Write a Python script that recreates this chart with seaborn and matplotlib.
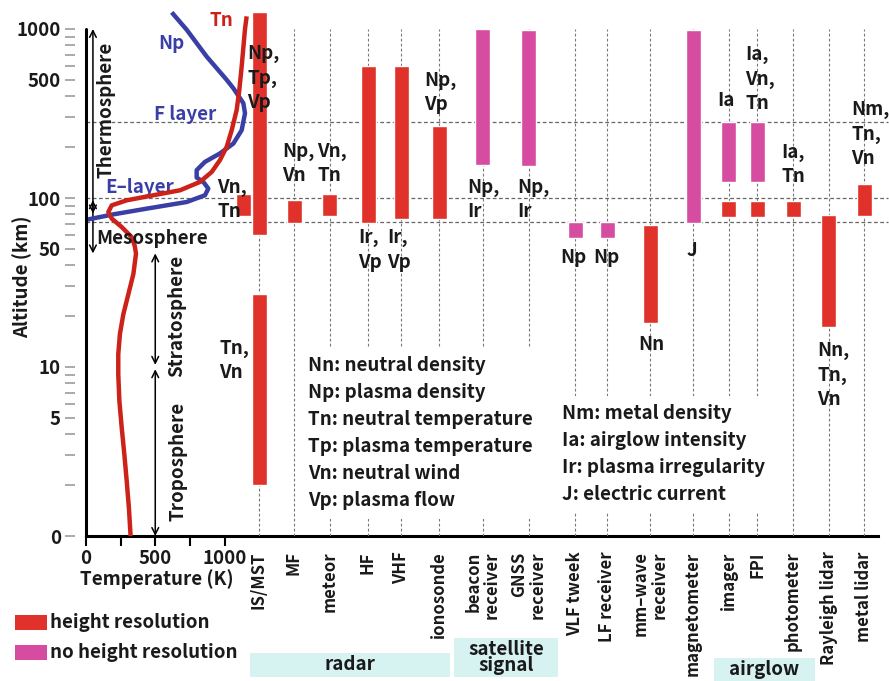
import numpy as np
import pandas as pd
import matplotlib
matplotlib.use("Agg")
import matplotlib.pyplot as plt
import matplotlib.ticker as mticker
from matplotlib.patches import Rectangle
import seaborn as sns

# ---------------- data ----------------
# neutral temperature profile (K) vs altitude (km)
tn_temp = [1160, 1148, 1124, 1107, 1088, 1052, 1016, 967, 908, 823, 679, 486, 294,
           186, 161, 186, 258, 330, 352, 361, 342, 306, 270, 245, 233, 233, 241,
           258, 277, 294, 310, 322]
tn_alt = [1188, 1000, 600, 436, 332, 252, 201, 167.5, 142.7, 124.5, 111.1, 103.8,
          96.9, 90.5, 82.6, 75.5, 67.3, 58.7, 52, 46.8, 35.5, 27.0, 20.6, 15.7,
          11.9, 9.06, 6.29, 4.36, 3.03, 2.11, 1.46, 1.0]
# plasma density profile (arbitrary units, drawn on temperature scale)
np_val = [619, 727, 871, 1016, 1064, 1136, 1148, 1124, 1064, 967, 859, 799, 799,
          847, 883, 859, 727, 438, 197, 5]
np_alt = [1254, 990, 687, 500, 446, 364, 317, 252, 210, 183.5, 163.6, 146.1, 132.2,
          124.5, 113.7, 103.8, 94.7, 86.5, 80.0, 74.4]

instruments = ["IS/MST", "MF", "meteor", "HF", "VHF", "ionosonde",
               "beacon\nreceiver", "GNSS\nreceiver", "VLF tweek", "LF receiver",
               "mm\u2013wave\nreceiver", "magnetometer", "imager", "FPI",
               "photometer", "Rayleigh lidar", "metal lidar"]

# altitude coverage of each instrument (km)
bar_inst = [0, 0, 0, 1, 2, 3, 4, 5, 6, 7, 8, 9, 10, 11, 12, 12, 13, 13, 14, 15, 16]
bar_bottom = [60, 2, 78, 71, 78, 71, 75, 75, 156, 154, 57.6, 57.6, 18.3, 71,
              124, 76.8, 124, 76.8, 76.8, 17.3, 77.9]
bar_top = [1268, 27, 105, 97, 105, 600, 605, 267, 1000, 990, 71.7, 71.7, 68.8,
           990, 281, 95.6, 281, 95.6, 95.6, 79, 120.6]
bar_kind = ["height resolution", "height resolution", "height resolution",
            "height resolution", "height resolution", "height resolution",
            "height resolution", "height resolution", "no height resolution",
            "no height resolution", "no height resolution", "no height resolution",
            "height resolution", "no height resolution", "no height resolution",
            "height resolution", "no height resolution", "height resolution",
            "height resolution", "height resolution", "height resolution"]

bar_labels = ["Np,\nTp,\nVp", "Tn,\nVn", "Vn,\nTn", "Np,\nVn", "Vn,\nTn", "Ir,\nVp",
              "Ir,\nVp", "Np,\nVp", "Np,\nIr", "Np,\nIr", "Np", "Np", "Nn", "J",
              "Ia", "Ia,\nVn,\nTn", "Ia,\nTn", "Nn,\nTn,\nVn", "Nm,\nTn,\nVn"]

abbrev_left = ["Nn: neutral density", "Np: plasma density", "Tn: neutral temperature",
               "Tp: plasma temperature", "Vn: neutral wind", "Vp: plasma flow"]
abbrev_right = ["Nm: metal density", "Ia: airglow intensity",
                "Ir: plasma irregularity", "J: electric current"]

ref_alts = [280, 100, 72]
temp_ticks = [0, 500, 1000]
alt_ticks = [1, 5, 10, 50, 100, 500, 1000]
alt_ticklabels = ["0", "5", "10", "50", "100", "500", "1000"]

# ---------------- layout ----------------
W, H = 889, 681
AX_L, AX_R, AX_T, AX_B = 86, 878, 29, 536
PX_PER_K = 0.1385
inst_pos = [173, 208, 243.5, 282, 315, 353, 396.5, 442.5, 489, 521, 564, 607,
            642.5, 671, 707, 742.5, 778]
bar_shift = [0, 0, -15.5] + [0] * 18
bar_width = 15
label_xy = [(247, 78), (219, 360.5), (217, 199.5), (282, 163.5), (317, 163.5),
            (358, 250), (387, 250), (424, 92.5), (467, 199.5), (517, 199.5),
            (560, 257.5), (593, 257.5), (638, 344.5), (687, 250.5), (717, 100.5),
            (745, 79), (781, 164.5), (817, 375), (851, 134)]

RED = "#e0312a"
MAG = "#d64ca1"
CURVE_RED = "#cc2219"
BLUE = "#3a3fa6"
CYAN = "#d6f2f1"
FS = 13.5
FS_CAT = 12
TXT = "#1a1a1a"

sns.set_theme(style="ticks")
plt.rcParams["font.family"] = ["Noto Sans CJK JP", "DejaVu Sans"]
plt.rcParams["font.weight"] = "bold"
plt.rcParams["text.color"] = TXT
plt.rcParams["xtick.color"] = TXT
plt.rcParams["ytick.color"] = TXT
plt.rcParams["axes.unicode_minus"] = False


def fx(x):
    return x / W


def fy(y):
    return 1 - y / H


fig = plt.figure(figsize=(W / 100, H / 100), dpi=100)
ax = fig.add_axes([fx(AX_L), fy(AX_B), (AX_R - AX_L) / W, (AX_B - AX_T) / H])
ax.set_yscale("log")
ax.set_ylim(1, 1000)
ax.set_xlim(0, (AX_R - AX_L) / PX_PER_K)

# curves
sns.lineplot(x=tn_temp, y=tn_alt, sort=False, estimator=None, ax=ax,
             color=CURVE_RED, lw=3.2, clip_on=False, zorder=5)
sns.lineplot(x=np_val, y=np_alt, sort=False, estimator=None, ax=ax,
             color=BLUE, lw=3.2, clip_on=False, zorder=4)
for ln in ax.lines:
    ln.set_solid_joinstyle("round")
    ln.set_solid_capstyle("butt")

for a in ref_alts:
    ax.axhline(a, xmin=0, xmax=1.012, color="#666666", lw=0.9,
               ls=(0, (3, 2)), clip_on=False, zorder=1)

# axes styling
ax.spines["top"].set_visible(False)
ax.spines["right"].set_visible(False)
ax.spines["left"].set_visible(False)
ax.spines["left"].set_position(("outward", 8))
ax.spines["bottom"].set_linewidth(2.2)
ax.spines["bottom"].set_color("black")
ax.axvline(0, ymin=0, ymax=1, color="black", lw=2.2, clip_on=False, zorder=6)

ax.yaxis.set_major_locator(mticker.FixedLocator(alt_ticks))
ax.yaxis.set_major_formatter(mticker.FixedFormatter(alt_ticklabels))
ax.yaxis.set_minor_locator(mticker.LogLocator(base=10, subs=np.arange(2, 10)))
ax.yaxis.set_minor_formatter(mticker.NullFormatter())
ax.tick_params(axis="y", which="both", direction="out", length=7, width=1.4,
               color="#aaaaaa", labelsize=FS, pad=3, left=True, labelcolor=TXT)
ax.xaxis.set_major_locator(mticker.FixedLocator(temp_ticks))
ax.xaxis.set_minor_locator(mticker.FixedLocator([250, 750]))
ax.tick_params(axis="x", which="both", direction="out", length=7, width=1.5,
               color="black", labelsize=FS, pad=2, bottom=True, labelcolor=TXT)
ax.set_xlabel("")
ax.set_ylabel("")

# arrows for atmospheric layers
for x, y0, y1 in [(50, 1000, 81), (50, 97, 47), (500, 47, 10.3), (500, 9.7, 1.0)]:
    ax.annotate("", xy=(x, y1), xytext=(x, y0),
                arrowprops=dict(arrowstyle="<->", color="black", lw=1.1,
                                shrinkA=0, shrinkB=0, mutation_scale=12),
                annotation_clip=False)

ax.text(617, 824, "Np", color=BLUE, fontsize=FS, ha="center", va="center")
ax.text(978, 1128, "Tn", color=CURVE_RED, fontsize=FS, ha="center", va="center")
ax.text(715, 312, "F layer", color=BLUE, fontsize=FS, ha="center", va="center")
ax.text(390, 115, "E\u2013layer", color=BLUE, fontsize=FS, ha="center", va="center")
ax.text(148, 332, "Thermosphere", fontsize=FS, rotation=90, ha="center", va="center")
ax.text(480, 57.7, "Mesosphere", fontsize=FS, ha="center", va="center", zorder=7)
ax.text(657, 20.1, "Stratosphere", fontsize=FS, rotation=90, ha="center", va="center")
ax.text(661, 2.77, "Troposphere", fontsize=FS, rotation=90, ha="center", va="center")

# instrument axis
ax2 = ax.twiny()
ax2.set_xlim(0, AX_R - AX_L)
for s in ax2.spines.values():
    s.set_visible(False)
ax2.vlines(inst_pos, 1, 1000, color="#777777", lw=0.8, ls=(0, (2.5, 2)), zorder=1)
colors = {"height resolution": RED, "no height resolution": MAG}
xs = [inst_pos[i] + s for i, s in zip(bar_inst, bar_shift)]
heights = [t - b for t, b in zip(bar_top, bar_bottom)]
ax2.bar(xs, heights, bottom=bar_bottom, width=bar_width,
        color=[colors[k] for k in bar_kind], clip_on=False, zorder=3)
ax2.xaxis.tick_bottom()
ax2.set_xticks(inst_pos)
ax2.set_xticklabels(instruments, rotation=90, ha="center", va="top",
                    multialignment="right", fontsize=FS_CAT, linespacing=1.05)
ax2.tick_params(axis="x", length=0, pad=11)
ax2.tick_params(axis="y", which="both", left=False, right=False)

# bar annotations
for s, (x, y) in zip(bar_labels, label_xy):
    fig.text(fx(x), fy(y), s, fontsize=FS, ha="left", va="center",
             linespacing=1.37, zorder=8)

# abbreviation blocks
fig.text(fx(308), fy(433), "\n".join(abbrev_left), fontsize=FS, ha="left",
         va="center", linespacing=1.54,
         bbox=dict(facecolor="white", edgecolor="none", pad=6), zorder=8)
fig.text(fx(562), fy(454), "\n".join(abbrev_right), fontsize=FS, ha="left",
         va="center", linespacing=1.54,
         bbox=dict(facecolor="white", edgecolor="none", pad=6), zorder=8)

# axis titles
fig.text(fx(22), fy(277), "Altitude (km)", fontsize=FS, rotation=90,
         ha="center", va="center")
fig.text(fx(157), fy(579), "Temperature (K)", fontsize=FS, ha="center", va="center")

# legend
for (y, c, t) in [(615, RED, "height resolution"), (645, MAG, "no height resolution")]:
    fig.add_artist(Rectangle((fx(15), fy(y + 15)), 32 / W, 15 / H,
                             transform=fig.transFigure, facecolor=c, edgecolor="none"))
    fig.text(fx(50), fy(y + 7.5), t, fontsize=FS, ha="left", va="center")

# group boxes
for (x0, y0, x1, y1, t) in [(250, 653, 450, 677, "radar"),
                            (454, 638, 558, 677, "satellite\nsignal"),
                            (714, 658, 815, 681, "airglow")]:
    fig.add_artist(Rectangle((fx(x0), fy(y1)), (x1 - x0) / W, (y1 - y0) / H,
                             transform=fig.transFigure, facecolor=CYAN,
                             edgecolor="none", zorder=0))
    fig.text(fx((x0 + x1) / 2), fy((y0 + y1) / 2), t, fontsize=FS, ha="center",
             va="center", linespacing=0.85)

fig.savefig("out.png", dpi=100)
